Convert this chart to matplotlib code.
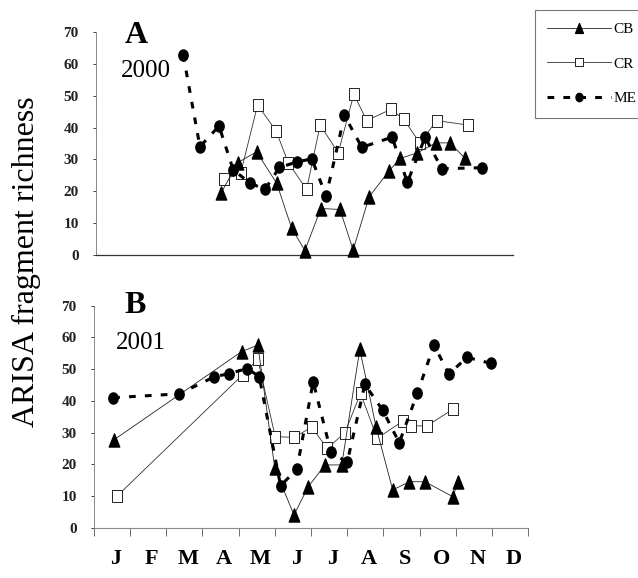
"""
ARISA fragment richness through the year, 2000 (A) and 2001 (B), for CB, CR and ME.
x values are in months from 1 January.
"""
import matplotlib
matplotlib.use("Agg")
import matplotlib.pyplot as plt
from matplotlib.path import Path
import numpy as np

# ---------------------------------------------------------------------------
# Data
# ---------------------------------------------------------------------------
MONTHS = ["J", "F", "M", "A", "M", "J", "J", "A", "S", "O", "N", "D"]
YTICKS = [0, 10, 20, 30, 40, 50, 60, 70]
SITES = ["CB", "CR", "ME"]

# 2000
cb_2000_x = [3.60, 4.08, 4.62, 5.20, 5.63, 6.01, 6.47, 7.02, 7.40, 7.86, 8.44, 8.75, 9.25, 9.78, 10.19, 10.62]
cb_2000_y = [19.5, 29.0, 32.4, 22.5, 8.4, 1.4, 14.6, 14.3, 1.6, 18.3, 26.5, 30.3, 32.1, 35.2, 35.2, 30.3]
cr_2000_x = [3.69, 4.16, 4.65, 5.18, 5.53, 6.06, 6.45, 6.97, 7.42, 7.79, 8.48, 8.86, 9.32, 9.80, 10.70]
cr_2000_y = [23.8, 25.6, 47.1, 39.0, 29.0, 20.6, 40.8, 32.1, 50.5, 42.2, 45.7, 42.6, 35.1, 42.2, 40.8]
me_2000_x = [2.51, 2.99, 3.54, 3.95, 4.43, 4.86, 5.28, 5.78, 6.21, 6.62, 7.15, 7.65, 8.52, 8.96, 9.47, 9.95, 11.10]
me_2000_y = [62.8, 34.0, 40.5, 26.7, 22.6, 20.6, 27.5, 29.2, 30.2, 18.5, 43.8, 33.8, 37.0, 22.8, 37.0, 27.1, 27.4]

# 2001
cb_2001_x = [0.55, 4.08, 4.53, 5.00, 5.53, 5.92, 6.39, 6.85, 7.35, 7.80, 8.26, 8.72, 9.15, 9.92, 10.07]
cb_2001_y = [27.7, 55.5, 57.6, 18.7, 4.0, 12.9, 19.8, 19.8, 56.3, 31.7, 11.9, 14.5, 14.5, 9.8, 14.5]
cr_2001_x = [0.64, 4.11, 4.53, 5.01, 5.53, 6.02, 6.45, 6.94, 7.37, 7.83, 8.55, 8.76, 9.20, 9.92]
cr_2001_y = [10.0, 48.2, 53.1, 28.7, 28.5, 31.7, 25.0, 30.0, 42.4, 28.2, 33.7, 32.1, 32.1, 37.3]
me_2001_x = [0.53, 2.36, 3.33, 3.74, 4.24, 4.57, 5.16, 5.61, 6.06, 6.55, 7.00, 7.49, 7.98, 8.44, 8.94, 9.40, 9.81, 10.32, 10.98]
me_2001_y = [41.0, 42.2, 47.6, 48.6, 50.2, 47.6, 13.2, 18.5, 46.0, 23.9, 20.6, 45.2, 37.1, 26.8, 42.4, 57.6, 48.5, 53.7, 51.8]

# ---------------------------------------------------------------------------
# Styling
# ---------------------------------------------------------------------------
SERIF = "Liberation Serif"
plt.rcParams.update({
    "font.family": SERIF,
    "axes.linewidth": 0.8,
})

# slightly tall markers, as in the scanned original
circ = Path.unit_circle()
ELLIPSE = Path(circ.vertices * [0.84, 1.0], circ.codes)
TRI = Path([(0, 1), (-0.8, -1), (0.8, -1), (0, 1)],
           [Path.MOVETO, Path.LINETO, Path.LINETO, Path.CLOSEPOLY])
RECT = Path([(-0.85, -1), (0.85, -1), (0.85, 1), (-0.85, 1), (-0.85, -1)],
            [Path.MOVETO, Path.LINETO, Path.LINETO, Path.LINETO, Path.CLOSEPOLY])

STYLE = {
    "CB": dict(color="#222222", lw=0.6, marker=TRI, ms=9.4, mfc="black", mec="black", zorder=3),
    "CR": dict(color="#333333", lw=0.6, marker=RECT, ms=8.0, mfc="white", mec="#222222",
               mew=0.7, zorder=2),
    "ME": dict(color="black", lw=2.2, dashes=(2.2, 3.0), marker=ELLIPSE, ms=8.0,
               mfc="black", mec="black", zorder=4),
}

fig = plt.figure(figsize=(6.38, 5.78), dpi=100)
axA = fig.add_axes([0.1505, 0.5588, 0.6536, 0.3858])
axB = fig.add_axes([0.1473, 0.0870, 0.6803, 0.3841])


def draw(ax, series):
    handles = []
    for site, (xs, ys) in zip(SITES, series):
        ln, = ax.plot(xs, ys, label=site, clip_on=False, **STYLE[site])
        handles.append(ln)
    ax.set_xlim(0, 12)
    ax.set_ylim(0, 70)
    ax.set_yticks(YTICKS)
    ax.set_yticklabels([str(v) for v in YTICKS], fontsize=11, fontweight="bold")
    ax.tick_params(axis="y", length=2.5, width=0.6, pad=10, colors="#222222")
    for s in ("top", "right"):
        ax.spines[s].set_visible(False)
    ax.spines["left"].set_color("#8a8a8a")
    ax.spines["left"].set_linewidth(0.7)
    return handles


handles = draw(axA, [(cb_2000_x, cb_2000_y), (cr_2000_x, cr_2000_y), (me_2000_x, me_2000_y)])
draw(axB, [(cb_2001_x, cb_2001_y), (cr_2001_x, cr_2001_y), (me_2001_x, me_2001_y)])

# panel A: plain baseline, no month ticks
axA.set_xticks([])
axA.spines["bottom"].set_color("#333333")
axA.spines["bottom"].set_linewidth(0.9)

# panel B: ticks on month boundaries, labels centred in each month
axB.spines["bottom"].set_color("#8a8a8a")
axB.spines["bottom"].set_linewidth(0.8)
axB.set_xticks(np.arange(13))
axB.set_xticklabels([])
axB.tick_params(axis="x", which="major", length=6, width=0.6, color="#555555")
axB.set_xticks(np.arange(12) + 0.6, minor=True)
axB.set_xticklabels(MONTHS, minor=True, fontsize=16, fontweight="bold")
axB.tick_params(axis="x", which="minor", length=0, pad=15)

# panel letters and years
axA.text(0.096, 0.985, "A", transform=axA.transAxes, fontsize=23, fontweight="bold",
         ha="center", va="center")
axA.text(0.12, 0.823, "2000", transform=axA.transAxes, fontsize=18, ha="center", va="center")
axB.text(0.094, 1.0, "B", transform=axB.transAxes, fontsize=23, fontweight="bold",
         ha="center", va="center")
axB.text(0.109, 0.83, "2001", transform=axB.transAxes, fontsize=18, ha="center", va="center")

fig.text(0.041, 0.547, "ARISA fragment richness", rotation=90, fontsize=23,
         ha="center", va="center")

leg = fig.legend(handles=handles, loc="upper left", bbox_to_anchor=(535 / 638, 1 - 10 / 578),
                 bbox_transform=fig.transFigure, borderaxespad=0, fontsize=11,
                 handlelength=4.2, handletextpad=0.15, labelspacing=1.38, borderpad=0.8,
                 markerscale=0.75, fancybox=False, framealpha=1, edgecolor="#777777")
leg.get_frame().set_linewidth(0.8)

fig.savefig("out.png", dpi=100)
